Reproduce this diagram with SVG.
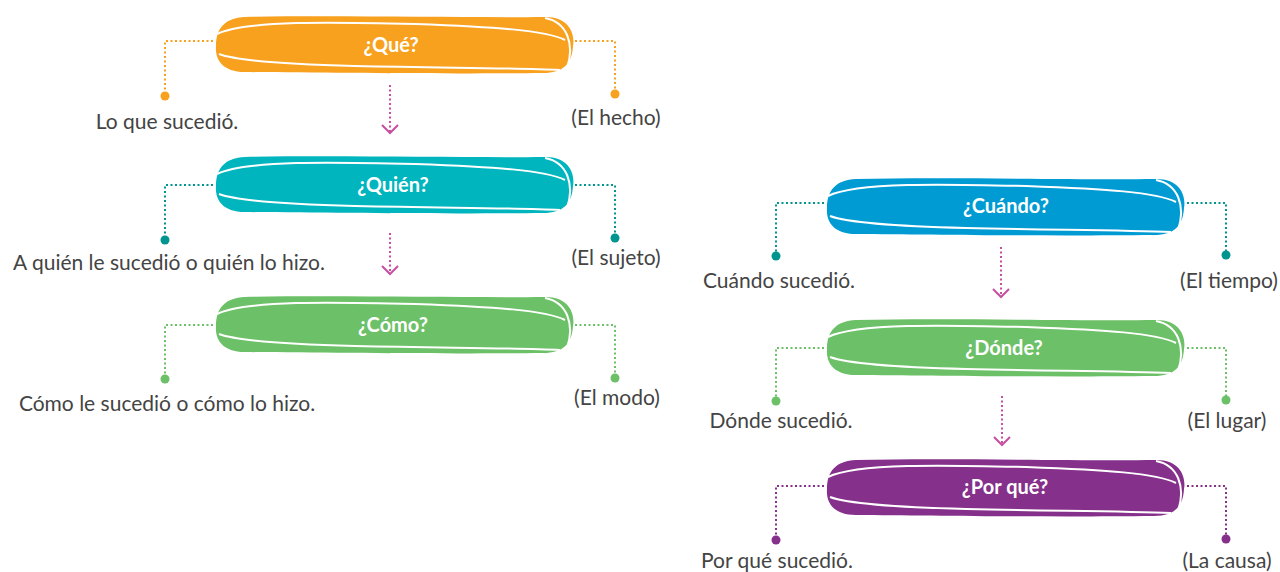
<svg xmlns="http://www.w3.org/2000/svg" width="1280" height="572" viewBox="0 0 1280 572">
<style>
.lbl{font-family:Lato,"Liberation Sans",sans-serif;font-size:21px;fill:#444;text-anchor:middle}
.ttl{font-family:Lato,"Liberation Sans",sans-serif;font-size:20px;font-weight:bold;fill:#fff;text-anchor:middle}
.dot{fill:none;stroke-width:2;stroke-dasharray:2 2.5}
.wl{fill:none;stroke:#fff;stroke-width:2}
.arr{fill:none;stroke:#c64f9f;stroke-width:2}
</style>
<defs>
<g id="bar">
<path d="M30,1 C120,-1 250,2 330,1 C356,1 360,20 358,30 C357,48 348,57 328,57 C240,58 110,57 30,56 C6,56 0,42 1,30 C1,12 10,2 30,1 Z"/>
<path class="wl" d="M2,18 C30,4 120,6 200,8 C280,11 330,14 350,24"/>
<path class="wl" d="M330,2 C352,6 360,28 352,52"/>
<path class="wl" d="M4,38 C20,44 60,48 140,50 C240,52 300,52 345,54"/>
</g>
</defs>

<g id="connectors">
<path class="dot" stroke="#f7a11e" d="M213,41 H165 V92 M575,41 H615 V90"/>
<circle cx="165" cy="96" r="4.5" fill="#f7a11e"/>
<circle cx="615" cy="94" r="4.5" fill="#f7a11e"/>
<path class="dot" stroke="#00958f" d="M213,185 H165 V236 M575,185 H615 V234"/>
<circle cx="165" cy="240" r="4.5" fill="#00958f"/>
<circle cx="615" cy="238" r="4.5" fill="#00958f"/>
<path class="dot" stroke="#6cc067" d="M213,325 H165 V375 M575,325 H615 V374"/>
<circle cx="165" cy="379" r="4.5" fill="#6cc067"/>
<circle cx="615" cy="378" r="4.5" fill="#6cc067"/>
<path class="dot" stroke="#00958f" d="M824,203 H776 V252 M1187,203 H1226 V251"/>
<circle cx="776" cy="256" r="4.5" fill="#00958f"/>
<circle cx="1226" cy="255" r="4.5" fill="#00958f"/>
<path class="dot" stroke="#6cc067" d="M824,348 H776 V397 M1187,348 H1226 V396"/>
<circle cx="776" cy="401" r="4.5" fill="#6cc067"/>
<circle cx="1226" cy="400" r="4.5" fill="#6cc067"/>
<path class="dot" stroke="#85308a" d="M824,486 H776 V536 M1187,486 H1226 V535"/>
<circle cx="776" cy="540" r="4.5" fill="#85308a"/>
<circle cx="1226" cy="539" r="4.5" fill="#85308a"/>
<path class="dot" stroke="#c64f9f" d="M390,85 V132"/>
<path class="arr" d="M382,125 L390,133 L398,125"/>
<path class="dot" stroke="#c64f9f" d="M390,233 V273"/>
<path class="arr" d="M382,266 L390,274 L398,266"/>
<path class="dot" stroke="#c64f9f" d="M1001,247 V296"/>
<path class="arr" d="M993,289 L1001,297 L1009,289"/>
<path class="dot" stroke="#c64f9f" d="M1002,396 V444"/>
<path class="arr" d="M994,437 L1002,445 L1010,437"/>
</g>

<g id="que">
<use href="#bar" x="215" y="16" fill="#f7a11e"/>
<text class="ttl" x="391" y="52">¿Qué?</text>
<text class="lbl" x="167" y="129">Lo que sucedió.</text>
<text class="lbl" x="616" y="125">(El hecho)</text>
</g>
<g id="quien">
<use href="#bar" x="215" y="156" fill="#00b5bd"/>
<text class="ttl" x="393" y="192">¿Quién?</text>
<text class="lbl" x="169" y="270">A quién le sucedió o quién lo hizo.</text>
<text class="lbl" x="616" y="265">(El sujeto)</text>
</g>
<g id="como">
<use href="#bar" x="215" y="296" fill="#6cc067"/>
<text class="ttl" x="393" y="332">¿Cómo?</text>
<text class="lbl" x="167" y="411">Cómo le sucedió o cómo lo hizo.</text>
<text class="lbl" x="617" y="405">(El modo)</text>
</g>
<g id="cuando">
<use href="#bar" x="826" y="178" fill="#009bd3"/>
<text class="ttl" x="1006" y="213">¿Cuándo?</text>
<text class="lbl" x="779" y="288">Cuándo sucedió.</text>
<text class="lbl" x="1229" y="288">(El tiempo)</text>
</g>
<g id="donde">
<use href="#bar" x="826" y="319" fill="#6cc067"/>
<text class="ttl" x="1004" y="355">¿Dónde?</text>
<text class="lbl" x="781" y="428">Dónde sucedió.</text>
<text class="lbl" x="1227" y="428">(El lugar)</text>
</g>
<g id="porque">
<use href="#bar" x="826" y="459" fill="#85308a"/>
<text class="ttl" x="1005" y="494">¿Por qué?</text>
<text class="lbl" x="777" y="568">Por qué sucedió.</text>
<text class="lbl" x="1227" y="568">(La causa)</text>
</g>
</svg>
